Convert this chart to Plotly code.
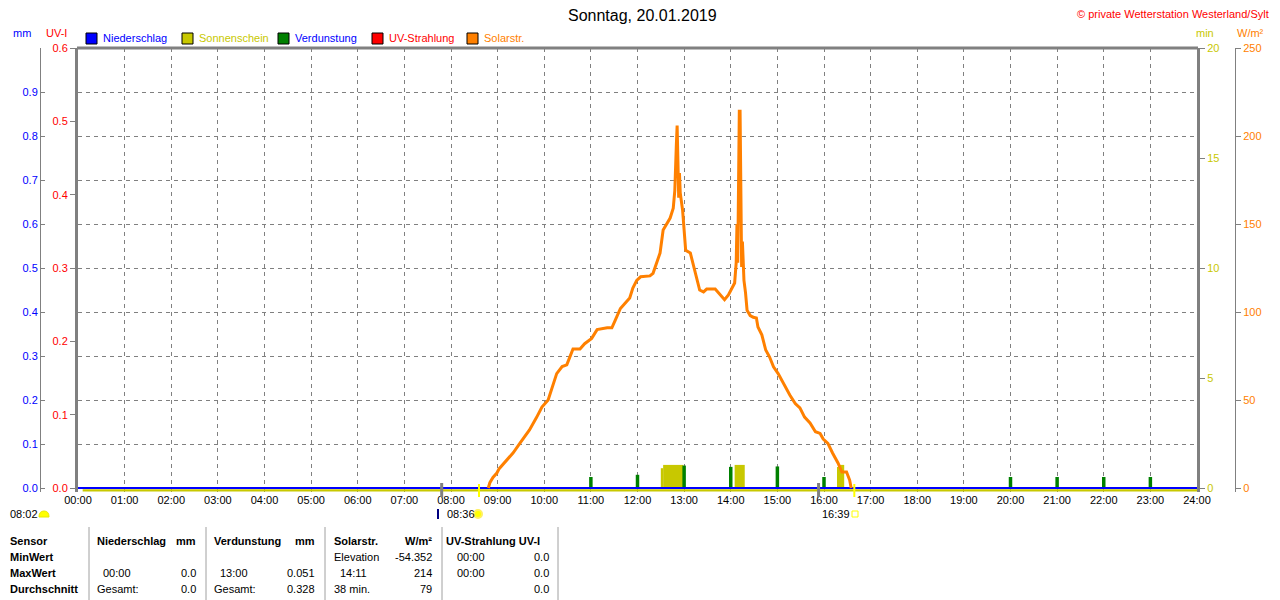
import plotly.graph_objects as go

# the page body keeps an 8 px margin, so the figure is drawn 8 px smaller
# and every layout position below is given in window pixels
OFF = 8
W, H = 1280 - OFF, 600 - OFF
FONT = "Arial, Liberation Sans, sans-serif"

BLUE = "#0000FF"
RED = "#FF0000"
OLIVE = "#C8C800"
GREEN = "#008000"
ORANGE = "#FF8000"
GRAY = "#808080"

# ---- data ----
solar_times = [
    "08:48", "08:50", "08:54", "08:59", "09:02", "09:10", "09:20", "09:29",
    "09:41", "09:50", "09:57", "10:05", "10:10", "10:16", "10:23", "10:29",
    "10:33", "10:37", "10:46", "10:52", "11:01", "11:08", "11:21", "11:27",
    "11:31", "11:38", "11:44", "11:50", "11:54", "11:59", "12:04", "12:16",
    "12:20", "12:25", "12:29", "12:33", "12:38", "12:42", "12:46", "12:48",
    "12:50", "12:51", "12:52", "12:53", "12:54", "12:55", "12:58", "13:00",
    "13:02", "13:08", "13:11", "13:16", "13:20", "13:25", "13:29", "13:40",
    "13:46", "13:52", "13:57", "14:01", "14:05", "14:07", "14:08", "14:09",
    "14:10", "14:11", "14:12", "14:13", "14:14", "14:15", "14:16", "14:17",
    "14:19", "14:21", "14:25", "14:29", "14:33", "14:35", "14:40", "14:42",
    "14:45", "14:50", "14:55", "15:01", "15:06", "15:10", "15:16", "15:23",
    "15:29", "15:35", "15:42", "15:49", "15:55", "15:59", "16:05", "16:11",
    "16:18", "16:23", "16:29", "16:33", "16:35",
]
solar_wm2 = [
    0, 3, 6, 8.5, 11, 15, 20, 25.6,
    33, 40, 46, 50, 57, 65, 69, 70,
    74.5, 79, 79, 82, 85, 90, 91, 91,
    95, 102, 105, 108, 113.6, 118, 120, 120.5,
    122, 128, 133.5, 146.6, 150.6, 153.4, 159, 169,
    195, 206, 186, 165, 179, 167.6, 158, 146.6,
    135, 133.5, 128, 120, 112.5, 111.4, 113, 113,
    109.7, 107, 109.7, 113.6, 116.5, 128, 150, 128,
    190, 214, 214, 160, 125.6, 140, 124, 118,
    111, 101, 98, 97, 96.6, 91.5, 87, 83,
    78.4, 74.4, 68.8, 65, 61, 57.4, 52.8, 48,
    45.5, 40.3, 37, 32, 31, 27.8, 25.4, 19.9,
    14.2, 9.1, 9.1, 4.5, 0,
]

evap_times = ["11:00", "12:00", "13:00", "14:00", "15:00",
              "16:00", "20:00", "21:00", "22:00", "23:00"]
evap_mm = [0.025, 0.030, 0.051, 0.048, 0.049,
           0.025, 0.025, 0.025, 0.025, 0.025]

sun_from = ["12:30", "12:33", "14:05", "16:17", "16:19"]
sun_to = ["12:33", "12:59", "14:18", "16:19", "16:26"]
sun_min = [0.9, 1.05, 1.05, 0.95, 1.05]

rain_times = ["00:00", "24:00"]
rain_mm = [0.0, 0.0]
uv_times = ["00:00", "24:00"]
uv_index = [0.0, 0.0]

hour_ticks = list(range(25))
hour_labels = [f"{h:02d}:00" for h in hour_ticks]

mm_ticks = [0.0, 0.1, 0.2, 0.3, 0.4, 0.5, 0.6, 0.7, 0.8, 0.9]
uv_ticks = [0.0, 0.1, 0.2, 0.3, 0.4, 0.5, 0.6]
min_ticks = [0, 5, 10, 15, 20]
wm2_ticks = [0, 50, 100, 150, 200, 250]

sunrise, sunset = "08:36", "16:39"
twilight = "08:02"
gray_marks = ["07:48", "15:53"]

table_head = ["Sensor", "Niederschlag", "mm", "Verdunstung", "mm",
              "Solarstr.", "W/m²", "UV-Strahlung UV-I"]
row_names = ["MinWert", "MaxWert", "Durchschnitt"]
rain_col = [("", ""), ("00:00", "0.0"), ("Gesamt:", "0.0")]
evap_col = [("", ""), ("13:00", "0.051"), ("Gesamt:", "0.328")]
solar_col = [("Elevation", "-54.352"), ("14:11", "214"), ("38 min.", "79")]
uv_col = [("00:00", "0.0"), ("00:00", "0.0"), ("", "0.0")]


def hrs(s):
    h, m = s.split(":")
    return int(h) + int(m) / 60


def px(x):
    return (x - OFF) / W


def py(y):
    return 1 - (y - OFF) / H


def lo(top):
    # axis bottom sits 4 px under the zero line (440 px plot height)
    return -top * 4 / 440


fig = go.Figure()

# sunshine bars (min)
fig.add_trace(go.Bar(
    x=[(hrs(a) + hrs(b)) / 2 for a, b in zip(sun_from, sun_to)],
    y=sun_min,
    width=[hrs(b) - hrs(a) for a, b in zip(sun_from, sun_to)],
    marker=dict(color=OLIVE, line=dict(width=0)),
    xaxis="x", yaxis="y", showlegend=False,
))

# UV index (hidden under the rain line)
fig.add_trace(go.Scatter(
    x=[hrs(t) for t in uv_times], y=uv_index, mode="lines",
    line=dict(color=RED, width=1),
    xaxis="x", yaxis="y2", showlegend=False,
))

# evaporation and rain (mm)
fig.add_trace(go.Bar(
    x=[hrs(t) for t in evap_times], y=evap_mm, width=0.075,
    marker=dict(color=GREEN, line=dict(width=0)),
    xaxis="x", yaxis="y3", showlegend=False,
))
fig.add_trace(go.Scatter(
    x=[hrs(t) for t in rain_times], y=rain_mm, mode="lines",
    line=dict(color=BLUE, width=1.8),
    xaxis="x", yaxis="y3", showlegend=False,
))

# solar radiation
fig.add_trace(go.Scatter(
    x=[hrs(t) for t in solar_times], y=solar_wm2, mode="lines",
    line=dict(color=ORANGE, width=3),
    xaxis="x", yaxis="y4", showlegend=False,
))

x_dom = [px(78), px(1197)]
y_dom = [py(492), py(48)]
tickf = lambda c: dict(family=FONT, size=11, color=c)

fig.update_layout(
    template="none",
    width=W, height=H, autosize=False,
    margin=dict(l=0, r=0, t=0, b=0, pad=0),
    paper_bgcolor="white", plot_bgcolor="white",
    barmode="overlay", showlegend=False,
    font=dict(family=FONT, size=11, color="black"),
    xaxis=dict(
        domain=x_dom, range=[0, 24], anchor="y", automargin=False,
        tickvals=hour_ticks, ticktext=hour_labels, tickfont=tickf("black"),
        ticks="", showline=False, zeroline=False,
        showgrid=True, gridcolor=GRAY, griddash="4px,4px", gridwidth=1,
    ),
    # sunshine minutes, right plot border
    yaxis=dict(
        domain=y_dom, range=[lo(20), 20], anchor="x", side="right", automargin=False,
        tickvals=min_ticks, tickfont=tickf(OLIVE),
        ticks="outside", ticklen=5, tickcolor=GRAY,
        showline=True, linecolor=GRAY, linewidth=3,
        showgrid=False, zeroline=False,
    ),
    # UV index, left plot border
    yaxis2=dict(
        overlaying="y", range=[lo(0.6), 0.6], anchor="x", side="left", automargin=False,
        tickvals=uv_ticks, tickformat=".1f", tickfont=tickf(RED),
        ticks="outside", ticklen=5, tickcolor=GRAY,
        showline=True, linecolor=GRAY, linewidth=3,
        showgrid=False, zeroline=False,
    ),
    # mm, free axis on the far left, carries the horizontal grid
    yaxis3=dict(
        overlaying="y", range=[lo(1.0), 1.0], anchor="free", automargin=False,
        position=px(40), side="left",
        tickvals=mm_ticks, tickformat=".1f", tickfont=tickf(BLUE),
        ticks="inside", ticklen=4, tickcolor=GRAY,
        showline=True, linecolor=GRAY, linewidth=1,
        showgrid=True, gridcolor=GRAY, griddash="4px,4px", gridwidth=1,
        zeroline=False,
    ),
    yaxis4=dict(
        overlaying="y", range=[lo(250), 250], anchor="free", automargin=False,
        position=px(1235), side="right",
        tickvals=wm2_ticks, tickfont=tickf(ORANGE),
        ticks="outside", ticklen=5, tickcolor=GRAY,
        showline=True, linecolor=GRAY, linewidth=1,
        showgrid=False, zeroline=False,
    ),
)

shapes = []
ann = []


def text(x, y, s, color="black", size=11, anchor="left", bold=False):
    ann.append(dict(
        x=px(x), y=py(y), xref="paper", yref="paper",
        text=f"<b>{s}</b>" if bold else s,
        showarrow=False, xanchor=anchor, yanchor="middle",
        font=dict(family=FONT, size=size, color=color),
    ))


# top plot border
shapes.append(dict(type="line", xref="paper", yref="paper",
                   x0=px(77), x1=px(1198), y0=py(48), y1=py(48),
                   line=dict(color=GRAY, width=3)))

# sunshine zero line, just under the rain line
shapes.append(dict(type="line", xref="x", yref="y", x0=hrs("00:06"), x1=24,
                   y0=-0.11, y1=-0.11, line=dict(color=OLIVE, width=2.2)))

# marks under the time axis
for t in gray_marks:
    shapes.append(dict(type="line", xref="x", yref="paper", x0=hrs(t), x1=hrs(t),
                       y0=py(497), y1=py(483), line=dict(color=GRAY, width=3)))
for t in (sunrise, sunset):
    shapes.append(dict(type="line", xref="x", yref="paper", x0=hrs(t), x1=hrs(t),
                       y0=py(497), y1=py(484), line=dict(color="#FFFF00", width=2)))

# title and captions
text(642, 16, "Sonntag, 20.01.2019", size=16, anchor="center")
text(1271, 14.5, "© private Wetterstation Westerland/Sylt", color=RED, anchor="right")
text(22, 33, "mm", color=BLUE, anchor="center")
text(56, 33, "UV-I", color=RED, anchor="center")
text(1205, 33, "min", color=OLIVE, anchor="center")
text(1250, 33, "W/m²", color=ORANGE, anchor="center")

# legend row
legend_items = [
    (86, "Niederschlag", BLUE, BLUE),
    (182, "Sonnenschein", OLIVE, OLIVE),
    (278, "Verdunstung", BLUE, GREEN),
    (372, "UV-Strahlung", RED, RED),
    (467, "Solarstr.", ORANGE, ORANGE),
]
for x0, label, tcol, fcol in legend_items:
    shapes.append(dict(type="rect", xref="paper", yref="paper",
                       x0=px(x0), x1=px(x0 + 11), y0=py(44), y1=py(33),
                       fillcolor=fcol, line=dict(color="black", width=1)))
    text(x0 + 15, 38, label, color=tcol)

# sunrise / sunset captions
text(8, 514, twilight)
shapes.append(dict(type="path", xref="paper", yref="paper",
                   xsizemode="pixel", ysizemode="pixel", xanchor=px(44), yanchor=py(517),
                   path="M -5,0 Q -5,6 0,6 Q 5,6 5,0 Z", fillcolor="#FFFF00",
                   line=dict(color="#E8E800", width=1)))
text(445, 514, sunrise)
shapes.append(dict(type="line", xref="paper", yref="paper",
                   x0=px(438), x1=px(438), y0=py(519), y1=py(509),
                   line=dict(color="#000080", width=2)))
shapes.append(dict(type="circle", xref="paper", yref="paper",
                   xsizemode="pixel", ysizemode="pixel", xanchor=px(478), yanchor=py(514),
                   x0=-4, x1=4, y0=-4, y1=4, fillcolor="#FFFF00",
                   line=dict(color="#FFF060", width=2)))
text(820, 514, sunset)
shapes.append(dict(type="rect", xref="paper", yref="paper",
                   xsizemode="pixel", ysizemode="pixel", xanchor=px(855), yanchor=py(514),
                   x0=-3, x1=3, y0=-3, y1=3, line=dict(color="#FFFF00", width=1)))

# summary table
for xs in (89, 206, 325, 442, 558):
    shapes.append(dict(type="line", xref="paper", yref="paper",
                       x0=px(xs), x1=px(xs), y0=py(600), y1=py(527),
                       line=dict(color="#A0A0A0", width=1)))

head_pos = [(8, "left"), (95, "left"), (198, "right"), (212, "left"), (317, "right"),
            (332, "left"), (434, "right"), (444, "left")]
for (x, a), s in zip(head_pos, table_head):
    text(x, 541, s, anchor=a, bold=True)

row_y = [557, 573, 589]
for i, y in enumerate(row_y):
    text(8, y, row_names[i], bold=True)
    lab, val = rain_col[i]
    text(101 if lab != "Gesamt:" else 95, y, lab)
    text(198, y, val, anchor="right")
    lab, val = evap_col[i]
    text(218 if lab != "Gesamt:" else 212, y, lab)
    text(317, y, val, anchor="right")
    lab, val = solar_col[i]
    text(338 if ":" in lab else 332, y, lab)
    text(434, y, val, anchor="right")
    lab, val = uv_col[i]
    text(455, y, lab)
    text(551, y, val, anchor="right")

fig.update_layout(shapes=shapes, annotations=ann)
fig.write_html("out.html")
